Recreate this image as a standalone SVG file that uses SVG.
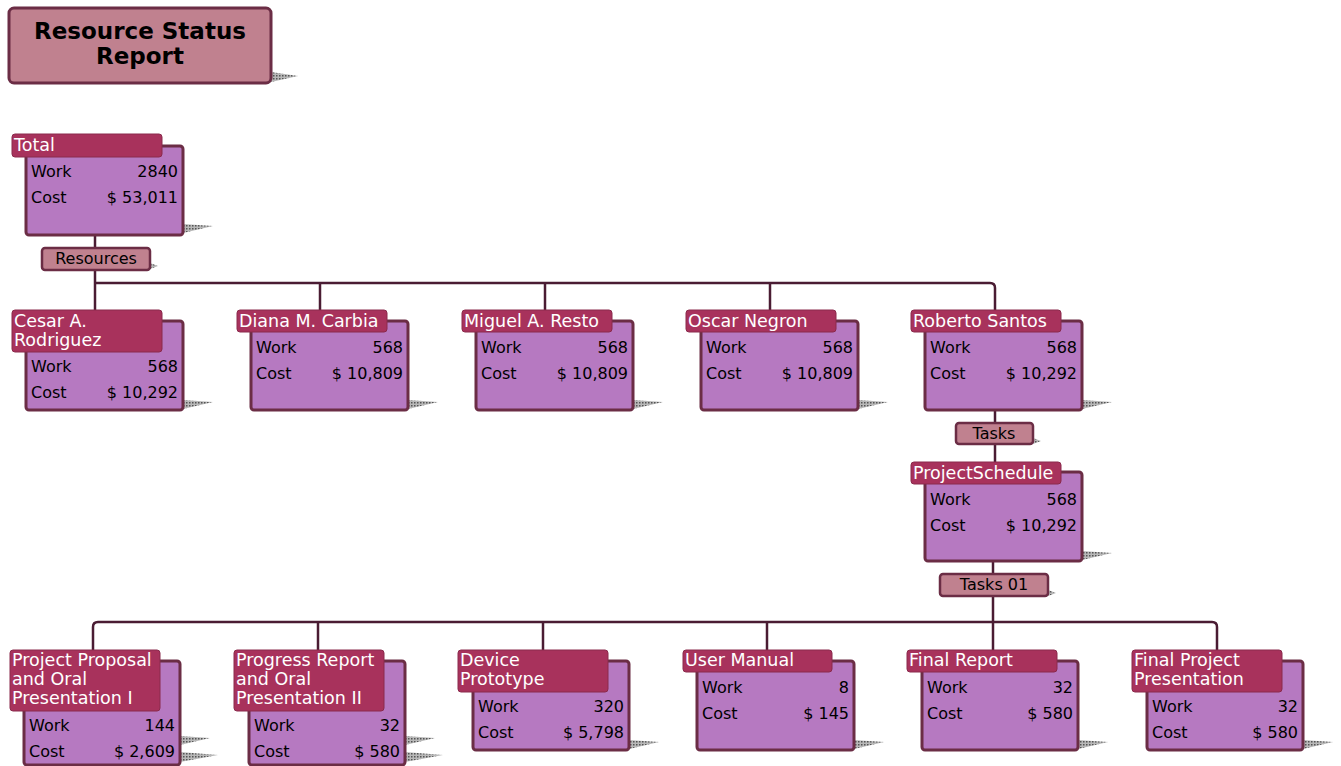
<svg xmlns="http://www.w3.org/2000/svg" width="1341" height="766" viewBox="0 0 1341 766">
<defs>
<pattern id="hatch" width="3" height="3" patternUnits="userSpaceOnUse">
<rect width="3" height="3" fill="#b8b8b8"/>
<rect width="1.5" height="1.5" fill="#555"/>
</pattern>
<style>
text{font-family:"DejaVu Sans","Verdana",sans-serif;font-size:16px;fill:#000}
.body{fill:#b679c1;stroke:#6b2d45;stroke-width:3}
.hdr{fill:#a8325c;stroke:#8a2a4c;stroke-width:1}
.hdr-t{fill:#fff;font-size:17.5px}
.lbl{fill:#c0818f;stroke:#6b2d45;stroke-width:2.5}
.title{fill:#c0818f;stroke:#6b2d45;stroke-width:3}
.sh{fill:url(#hatch)}
.num{text-anchor:end}
.c{text-anchor:middle}
.conn path{fill:none;stroke:#4a1c33;stroke-width:2.5}
</style>
</defs>
<rect width="1341" height="766" fill="#fff"/>

<g id="title">
<polygon class="sh" points="271,72 298,76 271,82"/>
<rect class="title" x="9" y="8" width="262" height="75" rx="5"/>
<text class="c" x="140" y="39" style="font-weight:bold;font-size:23px">Resource Status</text>
<text class="c" x="140" y="64" style="font-weight:bold;font-size:23px">Report</text>
</g>

<g class="conn" id="connectors">
<path d="M95,235 V248"/>
<path d="M95,270 V310"/>
<path d="M95,283 H990 Q995,283 995,288 V310"/>
<path d="M320,283 V310"/>
<path d="M545,283 V310"/>
<path d="M770,283 V310"/>
<path d="M995,410 V423"/>
<path d="M995,444 V462"/>
<path d="M993,561 V574"/>
<path d="M993,596 V650"/>
<path d="M98,622 Q93,622 93,627 V650"/>
<path d="M98,622 H1212 Q1217,622 1217,627 V650"/>
<path d="M318,622 V650"/>
<path d="M543,622 V650"/>
<path d="M767,622 V650"/>
</g>

<g id="total">
<polygon class="sh" points="183,224 213,226 183,233"/>
<rect class="body" x="26" y="146" width="157" height="89" rx="3"/>
<rect class="hdr" x="12" y="134" width="150" height="23" rx="3"/>
<text class="hdr-t" x="14" y="151">Total</text>
<text x="31" y="177">Work</text><text class="num" x="178" y="177">2840</text>
<text x="31" y="203">Cost</text><text class="num" x="178" y="203">$ 53,011</text>
</g>

<g id="lbl-resources">
<polygon class="sh" points="150,263 158,266 150,269"/>
<rect class="lbl" x="42" y="248" width="108" height="22" rx="3"/>
<text class="c" x="96" y="264">Resources</text>
</g>

<g id="cesar">
<polygon class="sh" points="183,400 213,402 183,409"/>
<rect class="body" x="26" y="321" width="157" height="89" rx="3"/>
<rect class="hdr" x="12" y="310" width="150" height="42" rx="3"/>
<text class="hdr-t" x="14" y="327">Cesar A.</text>
<text class="hdr-t" x="14" y="346">Rodriguez</text>
<text x="31" y="372">Work</text><text class="num" x="178" y="372">568</text>
<text x="31" y="398">Cost</text><text class="num" x="178" y="398">$ 10,292</text>
</g>

<g id="diana">
<polygon class="sh" points="408,400 438,402 408,409"/>
<rect class="body" x="251" y="321" width="157" height="89" rx="3"/>
<rect class="hdr" x="237" y="310" width="150" height="22" rx="3"/>
<text class="hdr-t" x="239" y="327">Diana M. Carbia</text>
<text x="256" y="353">Work</text><text class="num" x="403" y="353">568</text>
<text x="256" y="379">Cost</text><text class="num" x="403" y="379">$ 10,809</text>
</g>

<g id="miguel">
<polygon class="sh" points="633,400 663,402 633,409"/>
<rect class="body" x="476" y="321" width="157" height="89" rx="3"/>
<rect class="hdr" x="462" y="310" width="150" height="22" rx="3"/>
<text class="hdr-t" x="464" y="327">Miguel A. Resto</text>
<text x="481" y="353">Work</text><text class="num" x="628" y="353">568</text>
<text x="481" y="379">Cost</text><text class="num" x="628" y="379">$ 10,809</text>
</g>

<g id="oscar">
<polygon class="sh" points="858,400 888,402 858,409"/>
<rect class="body" x="701" y="321" width="157" height="89" rx="3"/>
<rect class="hdr" x="686" y="310" width="150" height="22" rx="3"/>
<text class="hdr-t" x="688" y="327">Oscar Negron</text>
<text x="706" y="353">Work</text><text class="num" x="853" y="353">568</text>
<text x="706" y="379">Cost</text><text class="num" x="853" y="379">$ 10,809</text>
</g>

<g id="roberto">
<polygon class="sh" points="1082,400 1112,402 1082,409"/>
<rect class="body" x="925" y="321" width="157" height="89" rx="3"/>
<rect class="hdr" x="911" y="310" width="150" height="22" rx="3"/>
<text class="hdr-t" x="913" y="327">Roberto Santos</text>
<text x="930" y="353">Work</text><text class="num" x="1077" y="353">568</text>
<text x="930" y="379">Cost</text><text class="num" x="1077" y="379">$ 10,292</text>
</g>

<g id="lbl-tasks">
<polygon class="sh" points="1033,438 1041,441 1033,444"/>
<rect class="lbl" x="956" y="423" width="77" height="21" rx="3"/>
<text class="c" x="994" y="439">Tasks</text>
</g>

<g id="projectschedule">
<polygon class="sh" points="1082,551 1112,553 1082,560"/>
<rect class="body" x="925" y="472" width="157" height="89" rx="3"/>
<rect class="hdr" x="911" y="462" width="150" height="22" rx="3"/>
<text class="hdr-t" x="913" y="479">ProjectSchedule</text>
<text x="930" y="505">Work</text><text class="num" x="1077" y="505">568</text>
<text x="930" y="531">Cost</text><text class="num" x="1077" y="531">$ 10,292</text>
</g>

<g id="lbl-tasks01">
<polygon class="sh" points="1048,590 1056,593 1048,596"/>
<rect class="lbl" x="940" y="574" width="108" height="22" rx="3"/>
<text class="c" x="994" y="590">Tasks 01</text>
</g>

<g id="proposal">
<polygon class="sh" points="180,736 210,738 180,745"/>
<polygon class="sh" points="180,752 218,755 180,762"/>
<rect class="body" x="24" y="661" width="156" height="104" rx="3"/>
<rect class="hdr" x="10" y="650" width="150" height="61" rx="3"/>
<text class="hdr-t" x="12" y="666">Project Proposal</text>
<text class="hdr-t" x="12" y="685">and Oral</text>
<text class="hdr-t" x="12" y="704">Presentation I</text>
<text x="29" y="731">Work</text><text class="num" x="175" y="731">144</text>
<text x="29" y="757">Cost</text><text class="num" x="175" y="757">$ 2,609</text>
</g>

<g id="progress">
<polygon class="sh" points="405,736 435,738 405,745"/>
<polygon class="sh" points="405,752 443,755 405,762"/>
<rect class="body" x="249" y="661" width="156" height="104" rx="3"/>
<rect class="hdr" x="234" y="650" width="150" height="61" rx="3"/>
<text class="hdr-t" x="236" y="666">Progress Report</text>
<text class="hdr-t" x="236" y="685">and Oral</text>
<text class="hdr-t" x="236" y="704">Presentation II</text>
<text x="254" y="731">Work</text><text class="num" x="400" y="731">32</text>
<text x="254" y="757">Cost</text><text class="num" x="400" y="757">$ 580</text>
</g>

<g id="device">
<polygon class="sh" points="629,740 659,742 629,749"/>
<rect class="body" x="473" y="661" width="156" height="89" rx="3"/>
<rect class="hdr" x="458" y="650" width="150" height="42" rx="3"/>
<text class="hdr-t" x="460" y="666">Device</text>
<text class="hdr-t" x="460" y="685">Prototype</text>
<text x="478" y="712">Work</text><text class="num" x="624" y="712">320</text>
<text x="478" y="738">Cost</text><text class="num" x="624" y="738">$ 5,798</text>
</g>

<g id="usermanual">
<polygon class="sh" points="854,740 884,742 854,749"/>
<rect class="body" x="697" y="661" width="157" height="89" rx="3"/>
<rect class="hdr" x="683" y="650" width="149" height="22" rx="3"/>
<text class="hdr-t" x="685" y="666">User Manual</text>
<text x="702" y="693">Work</text><text class="num" x="849" y="693">8</text>
<text x="702" y="719">Cost</text><text class="num" x="849" y="719">$ 145</text>
</g>

<g id="finalreport">
<polygon class="sh" points="1078,740 1108,742 1078,749"/>
<rect class="body" x="922" y="661" width="156" height="89" rx="3"/>
<rect class="hdr" x="907" y="650" width="150" height="22" rx="3"/>
<text class="hdr-t" x="909" y="666">Final Report</text>
<text x="927" y="693">Work</text><text class="num" x="1073" y="693">32</text>
<text x="927" y="719">Cost</text><text class="num" x="1073" y="719">$ 580</text>
</g>

<g id="finalpresentation">
<polygon class="sh" points="1303,740 1333,742 1303,749"/>
<rect class="body" x="1147" y="661" width="156" height="89" rx="3"/>
<rect class="hdr" x="1132" y="650" width="150" height="42" rx="3"/>
<text class="hdr-t" x="1134" y="666">Final Project</text>
<text class="hdr-t" x="1134" y="685">Presentation</text>
<text x="1152" y="712">Work</text><text class="num" x="1298" y="712">32</text>
<text x="1152" y="738">Cost</text><text class="num" x="1298" y="738">$ 580</text>
</g>
</svg>
